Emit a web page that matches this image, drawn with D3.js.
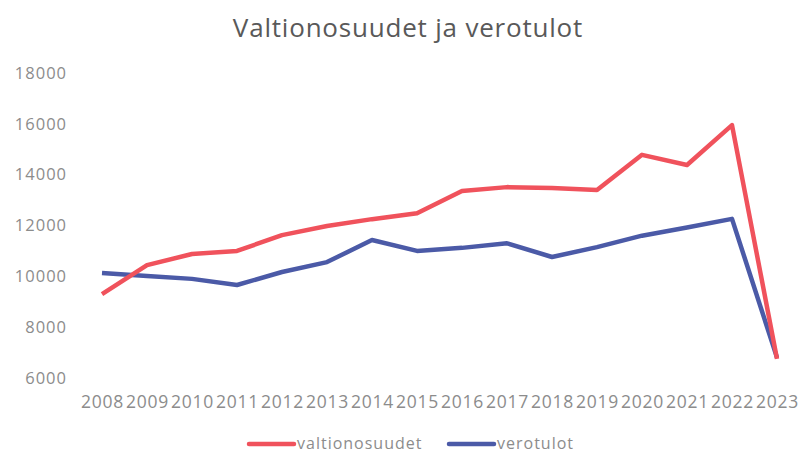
<!DOCTYPE html>
<html>
<head>
<meta charset="utf-8">
<script src="https://cdn.jsdelivr.net/npm/d3@7"></script>
<style>
  body { margin: 0; background: #fff; }
  text { font-family: "Open Sans", sans-serif; }
</style>
</head>
<body>
<div id="chart"></div>
<script>
// data
var years = [2008, 2009, 2010, 2011, 2012, 2013, 2014, 2015, 2016, 2017, 2018, 2019, 2020, 2021, 2022, 2023]
var valtionosuudet = [9300, 10440, 10880, 11000, 11620, 11980, 12250, 12480, 13360, 13510, 13480, 13400, 14780, 14380, 15950, 6750]
var verotulot = [10130, 10010, 9900, 9660, 10170, 10560, 11430, 11000, 11120, 11300, 10760, 11150, 11600, 11920, 12260, 6800]
var yTicks = [6000, 8000, 10000, 12000, 14000, 16000, 18000]

var width = 798
var height = 457

var svg = d3.select("#chart")
  .append("svg")
  .attr("width", width)
  .attr("height", height)

var x = d3.scalePoint()
  .domain(years)
  .range([102, 777])

var y = d3.scaleLinear()
  .domain([6000, 18000])
  .range([378, 73])

// title
svg.append("text")
  .attr("x", 408)
  .attr("y", 37)
  .attr("text-anchor", "middle")
  .style("font-size", "26px")
  .style("letter-spacing", "0.8px")
  .style("fill", "#595959")
  .text("Valtionosuudet ja verotulot")

// y axis (labels only)
var yAxis = svg.append("g")
  .attr("transform", "translate(67,0)")
  .call(d3.axisLeft(y).tickValues(yTicks).tickSize(0).tickPadding(0).tickFormat(d3.format("d")))
yAxis.select(".domain").remove()
yAxis.selectAll("text")
  .style("font-size", "16.5px")
  .style("letter-spacing", "1px")
  .style("fill", "#8c8c8c")

// x axis (labels only)
var xAxis = svg.append("g")
  .attr("transform", "translate(0,396)")
  .call(d3.axisBottom(x).tickSize(0).tickPadding(0).tickFormat(d3.format("d")))
xAxis.select(".domain").remove()
xAxis.selectAll("text")
  .style("font-size", "17.5px")
  .style("fill", "#8c8c8c")
  .style("letter-spacing", "0.8px")

var line = d3.line()
  .x(function (d, i) { return x(years[i]) })
  .y(function (d) { return y(d) })

var series = [
  { name: "valtionosuudet", values: valtionosuudet, color: "#f0525c" },
  { name: "verotulot", values: verotulot, color: "#4b5aa7" }
]

svg.selectAll(".serie")
  .data(series.slice().reverse())
  .enter()
  .append("path")
  .attr("class", "serie")
  .attr("d", function (d) { return line(d.values) })
  .attr("fill", "none")
  .attr("stroke", function (d) { return d.color })
  .attr("stroke-width", 4.5)
  .attr("stroke-linejoin", "round")

// legend
var legend = svg.selectAll(".legend")
  .data(series)
  .enter()
  .append("g")
  .attr("class", "legend")
  .attr("transform", function (d, i) { return "translate(" + (249 + i * 200) + ",444)" })

legend.append("line")
  .attr("x1", 0)
  .attr("x2", 45)
  .attr("stroke", function (d) { return d.color })
  .attr("stroke-width", 4.5)
  .attr("stroke-linecap", "round")

legend.append("text")
  .attr("x", 48)
  .attr("y", 5)
  .style("font-size", "16px")
  .style("letter-spacing", "1px")
  .style("fill", "#8c8c8c")
  .text(function (d) { return d.name })
</script>
</body>
</html>
